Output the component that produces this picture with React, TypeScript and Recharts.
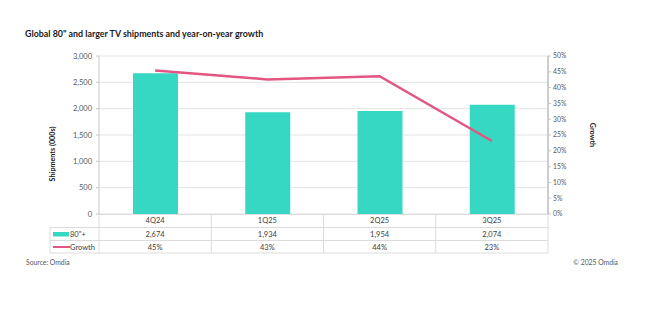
import React from 'react';
import { ComposedChart, Bar, Line, XAxis, YAxis, CartesianGrid } from 'recharts';

const categories = ['4Q24', '1Q25', '2Q25', '3Q25'];
const shipments = [2674, 1934, 1954, 2074];
const growth = [45.4, 42.6, 43.6, 23.1];
const shipmentTicks = [0, 500, 1000, 1500, 2000, 2500, 3000];
const growthTicks = [0, 5, 10, 15, 20, 25, 30, 35, 40, 45, 50];
const seriesNames = ['80"+', 'Growth'];
const title = 'Global 80" and larger TV shipments and year-on-year growth';
const leftAxisTitle = 'Shipments (000s)';
const rightAxisTitle = 'Growth';
const sourceText = 'Source: Omdia';
const copyrightText = '© 2025 Omdia';

const data = categories.map((c, i) => ({ cat: c, shipments: shipments[i], growth: growth[i] }));

const W = 646;
const H = 323;
const PLOT_LEFT = 99;
const PLOT_RIGHT = 548;
const PLOT_TOP = 56;
const PLOT_BOTTOM = 214;
const LEFT_W = 60;
const RIGHT_W = 40;
const BAR_COLOR = '#36d7c3';
const LINE_COLOR = '#e25681';
const FONT = 'Lato, "Open Sans", sans-serif';
const TEXT = '#404040';
const GRID = '#dcdcdc';

const fmtNum = (v: number) => v.toLocaleString('en-US');
const fmtPct = (v: number) => `${Math.round(v)}%`;

export default function App() {
  const colW = (PLOT_RIGHT - PLOT_LEFT) / categories.length;
  const rowTop = [PLOT_BOTTOM, 227.5, 240.5];
  const rowBottom = 253;
  const rowH = 13;
  return (
    <div style={{ position: 'absolute', left: 0, top: 0, width: W, height: H, background: '#fff', fontFamily: FONT }}>
      <ComposedChart
        width={W}
        height={H}
        data={data}
        margin={{ top: PLOT_TOP, right: W - PLOT_RIGHT - RIGHT_W, left: PLOT_LEFT - LEFT_W, bottom: H - PLOT_BOTTOM }}
      >
        <CartesianGrid yAxisId="left" vertical={false} horizontal stroke={GRID} strokeWidth={0.8} />
        <XAxis dataKey="cat" hide />
        <YAxis
          yAxisId="left"
          domain={[0, 3000]}
          ticks={shipmentTicks}
          tickFormatter={fmtNum}
          width={LEFT_W}
          tick={{ fontSize: 7.5, fill: '#595959', fontFamily: FONT }}
          axisLine={{ stroke: '#c8c8c8' }}
          tickLine={{ stroke: '#c8c8c8' }}
          tickSize={3}
          tickMargin={4}
          interval={0}
        />
        <YAxis
          yAxisId="right"
          orientation="right"
          domain={[0, 50]}
          ticks={growthTicks}
          tickFormatter={(v: number) => `${v}%`}
          width={RIGHT_W}
          tick={{ fontSize: 6.8, fill: '#595959', fontFamily: FONT }}
          axisLine={{ stroke: '#bdbdbd', strokeWidth: 1.5 }}
          tickLine={{ stroke: '#c8c8c8' }}
          tickSize={3}
          tickMargin={2}
          interval={0}
        />
        <Bar yAxisId="left" dataKey="shipments" fill={BAR_COLOR} barSize={45} isAnimationActive={false} />
        <Line
          yAxisId="right"
          type="linear"
          dataKey="growth"
          stroke={LINE_COLOR}
          strokeWidth={2.5}
          dot={false}
          activeDot={false}
          isAnimationActive={false}
        />
      </ComposedChart>
      <svg width={W} height={H} style={{ position: 'absolute', left: 0, top: 0, pointerEvents: 'none' }}>
        <text x={25} y={37} fontSize={8.9} fontWeight={700} fill="#1a1a1a" fontFamily={FONT}>{title}</text>
        <text
          transform={`translate(52, 154) rotate(-90)`}
          textAnchor="middle"
          fontSize={7.2}
          fontWeight={700}
          fill="#1a1a1a"
          fontFamily={FONT}
          dominantBaseline="central"
        >{leftAxisTitle}</text>
        <text
          transform={`translate(592, 135) rotate(90)`}
          textAnchor="middle"
          fontSize={7.2}
          fontWeight={700}
          fill="#1a1a1a"
          fontFamily={FONT}
          dominantBaseline="central"
        >{rightAxisTitle}</text>
        <line x1={PLOT_LEFT} x2={PLOT_RIGHT} y1={PLOT_BOTTOM + 0.5} y2={PLOT_BOTTOM + 0.5} stroke={GRID} />
        <line x1={50} x2={PLOT_RIGHT} y1={rowTop[1]} y2={rowTop[1]} stroke={GRID} />
        <line x1={50} x2={PLOT_RIGHT} y1={rowTop[2]} y2={rowTop[2]} stroke={GRID} />
        <line x1={50} x2={PLOT_RIGHT} y1={rowBottom} y2={rowBottom} stroke={GRID} />
        <line x1={50} x2={50} y1={rowTop[1]} y2={rowBottom} stroke={GRID} />
        {categories.map((_, i) => (
          <line key={`v${i}`} x1={PLOT_LEFT + colW * i} x2={PLOT_LEFT + colW * i} y1={PLOT_BOTTOM} y2={rowBottom} stroke={GRID} />
        ))}
        <line x1={PLOT_RIGHT} x2={PLOT_RIGHT} y1={PLOT_BOTTOM} y2={rowBottom} stroke={GRID} />
        {categories.map((c, i) => (
          <g key={`c${i}`} fontSize={7.5} fill={TEXT} fontFamily={FONT} textAnchor="middle">
            <text x={PLOT_LEFT + colW * (i + 0.5)} y={rowTop[0] + rowH / 2} dominantBaseline="central">{c}</text>
            <text x={PLOT_LEFT + colW * (i + 0.5)} y={rowTop[1] + rowH / 2} dominantBaseline="central">{fmtNum(shipments[i])}</text>
            <text x={PLOT_LEFT + colW * (i + 0.5)} y={rowTop[2] + rowH / 2} dominantBaseline="central">{fmtPct(growth[i])}</text>
          </g>
        ))}
        <rect x={53} y={rowTop[1] + rowH / 2 - 2} width={16} height={4.5} fill={BAR_COLOR} />
        <text x={70} y={rowTop[1] + rowH / 2} fontSize={7.5} fill={TEXT} fontFamily={FONT} dominantBaseline="central">{seriesNames[0]}</text>
        <line x1={53} x2={70} y1={rowTop[2] + rowH / 2} y2={rowTop[2] + rowH / 2} stroke={LINE_COLOR} strokeWidth={2} />
        <text x={70} y={rowTop[2] + rowH / 2} fontSize={7.5} fill={TEXT} fontFamily={FONT} dominantBaseline="central">{seriesNames[1]}</text>
        <text x={26} y={265} fontSize={6.8} fill="#595959" fontFamily={FONT}>{sourceText}</text>
        <text x={618} y={265} fontSize={6.8} fill="#595959" fontFamily={FONT} textAnchor="end">{copyrightText}</text>
      </svg>
    </div>
  );
}
